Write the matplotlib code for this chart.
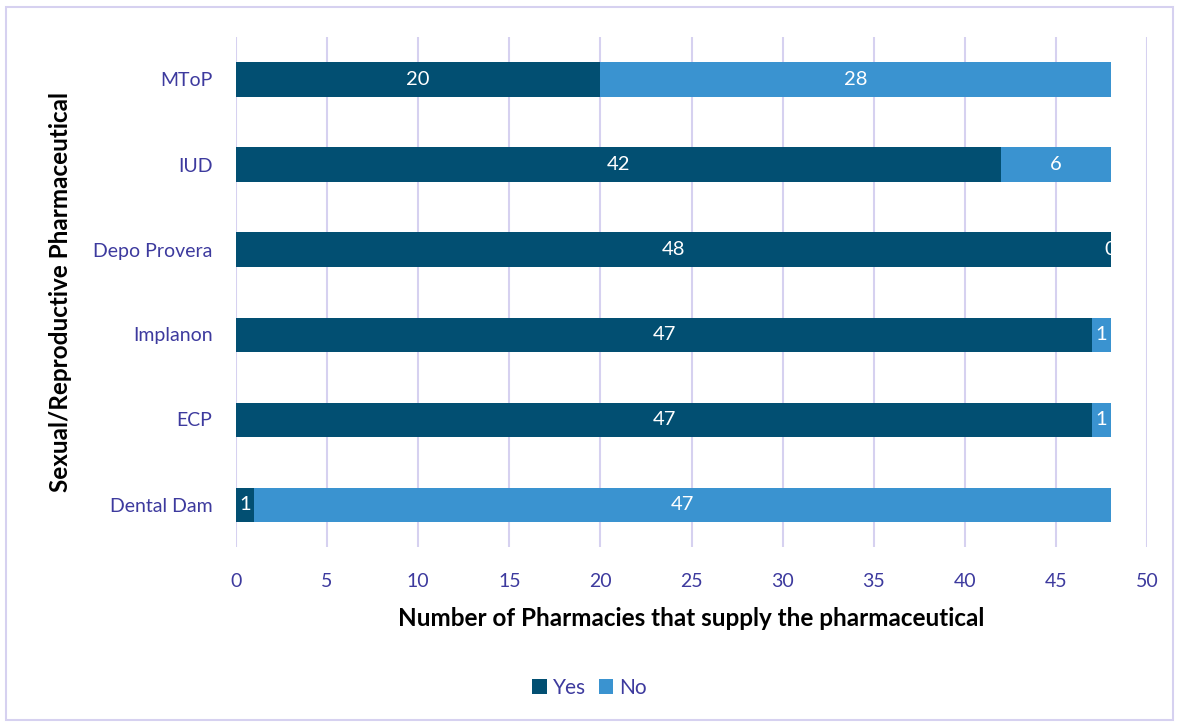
import numpy as np
import matplotlib.pyplot as plt
from matplotlib.patches import Rectangle

plt.rcParams['font.family'] = ['Lato', 'DejaVu Sans']

categories = ['MToP', 'IUD', 'Depo Provera', 'Implanon', 'ECP', 'Dental Dam']
yes_vals = [20, 42, 48, 47, 47, 1]
no_vals = [28, 6, 0, 1, 1, 47]

yes_color = '#024F72'
no_color = '#3A93D0'
tick_color = '#3D3A9E'
grid_color = '#D6D1F0'

fig = plt.figure(figsize=(11.79, 7.24), dpi=100)
ax = fig.add_axes([236 / 1179, 1 - 547 / 724, (1147 - 236) / 1179, (547 - 37) / 724])

y = np.arange(len(categories))[::-1]
b1 = ax.barh(y, yes_vals, height=0.4, color=yes_color, label='Yes', zorder=3)
b2 = ax.barh(y, no_vals, left=yes_vals, height=0.4, color=no_color, label='No', zorder=3)

for bars in (b1, b2):
    for rect in bars:
        w = rect.get_width()
        cx = rect.get_x() + w / 2
        cy = rect.get_y() + rect.get_height() / 2
        ax.text(cx, cy, f'{int(w)}', color='white', ha='center', va='center',
                fontsize=14.5, zorder=4)

ax.set_xlim(0, 50)
ax.set_ylim(-0.5, len(categories) - 0.5)
ax.set_xticks(range(0, 51, 5))
ax.set_yticks(y)
ax.set_yticklabels(categories)
ax.tick_params(axis='both', length=0, labelsize=14, colors=tick_color)
ax.tick_params(axis='x', pad=19)
ax.tick_params(axis='y', pad=17)
ax.grid(axis='x', color=grid_color, linewidth=1.5, zorder=0)
for s in ax.spines.values():
    s.set_visible(False)

ax.set_xlabel('Number of Pharmacies that supply the pharmaceutical',
              fontsize=17.5, fontweight='bold', labelpad=12)
ax.set_ylabel('Sexual/Reproductive Pharmaceutical',
              fontsize=17.5, fontweight='bold', labelpad=15)

fig.legend(handles=[b1, b2], loc='center', bbox_to_anchor=(0.5, 1 - 688 / 724),
           ncol=2, frameon=False, fontsize=15, labelcolor=tick_color,
           handlelength=0.7, handleheight=0.7, handletextpad=0.3, columnspacing=0.6)

fig.patches.append(Rectangle((6 / 1179, 4 / 724), 1167 / 1179, 713 / 724,
                             transform=fig.transFigure, fill=False,
                             edgecolor=grid_color, linewidth=1.5))

fig.savefig('out.png', dpi=100)
